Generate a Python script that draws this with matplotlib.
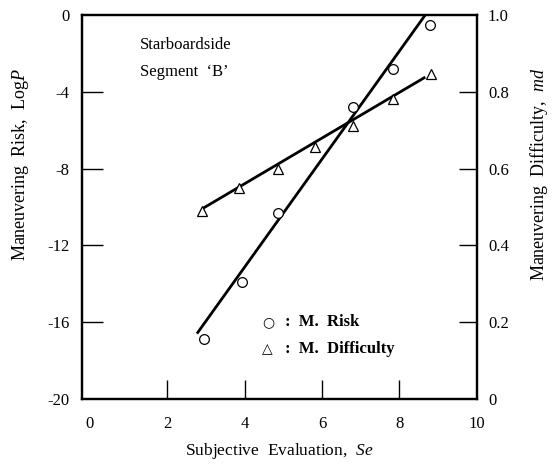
import matplotlib
matplotlib.use("Agg")
import matplotlib.pyplot as plt

plt.rcParams['font.family'] = ['Liberation Serif', 'DejaVu Serif']
plt.rcParams['mathtext.fontset'] = 'custom'
plt.rcParams['mathtext.rm'] = 'Liberation Serif'
plt.rcParams['mathtext.it'] = 'Liberation Serif:italic'

# data
se_risk = [2.95, 3.93, 4.86, 6.80, 7.84, 8.80]
log_p = [-16.9, -13.9, -10.3, -4.8, -2.8, -0.5]
se_diff = [2.90, 3.86, 4.86, 5.82, 6.80, 7.84, 8.82]
md = [0.49, 0.55, 0.60, 0.655, 0.71, 0.78, 0.845]

# fitted lines (end points)
risk_line_se = [2.77, 8.67]
risk_line_logp = [-16.6, 0.0]
diff_line_se = [2.92, 8.67]
diff_line_md = [0.496, 0.838]

x_ticks = [0, 2, 4, 6, 8, 10]
left_ticks = [0, -4, -8, -12, -16, -20]
right_ticks = [0, 0.2, 0.4, 0.6, 0.8, 1.0]
right_labels = ['0', '0.2', '0.4', '0.6', '0.8', '1.0']

fig = plt.figure(figsize=(5.56, 4.66), dpi=100)
ax = fig.add_axes([0.1475, 0.144, 0.71, 0.824])
ax2 = ax.twinx()

# risk (left axis)
ax.plot(risk_line_se, risk_line_logp, color='black', lw=2.0, solid_capstyle='butt')
ax.plot(se_risk, log_p, 'o', ms=7, mfc='white', mec='black', mew=0.9, clip_on=False)
ax.set_xlim(-0.2, 10)
ax.set_ylim(-20, 0)

# difficulty (right axis)
ax2.plot(diff_line_se, diff_line_md, color='black', lw=2.0, solid_capstyle='butt')
ax2.plot(se_diff, md, '^', ms=7.5, mfc='white', mec='black', mew=0.9, clip_on=False)
ax2.set_ylim(0, 1.0)

ax.set_xticks(x_ticks)
ax.set_xticklabels([str(t) for t in x_ticks])
ax.set_yticks(left_ticks)
ax.set_yticklabels([str(t) for t in left_ticks])
ax2.set_yticks(right_ticks)
ax2.set_yticklabels(right_labels)

ax.tick_params(axis='x', direction='in', length=14, width=1.0, pad=12, labelsize=12)
ax.tick_params(axis='y', direction='in', length=15, width=1.0, pad=9, labelsize=12)
ax2.tick_params(axis='y', direction='in', length=13, width=1.0, pad=8, labelsize=12)

# hide ticks at the corners
for t in ax.xaxis.get_major_ticks():
    if t.get_loc() in (0, 10):
        t.tick1line.set_visible(False)
for t in ax.yaxis.get_major_ticks():
    if t.get_loc() in (0, -20):
        t.tick1line.set_visible(False)
for t in ax2.yaxis.get_major_ticks():
    if t.get_loc() in (0, 1.0):
        t.tick2line.set_visible(False)

for a in (ax, ax2):
    for s in a.spines.values():
        s.set_linewidth(1.6)

ax.set_xlabel(r"Subjective  Evaluation,  $\it{Se}$", fontsize=12.5, labelpad=7)
ax.set_ylabel(r"Maneuvering  Risk,  Log$\it{P}$", fontsize=13)
ax2.set_ylabel(r"Maneuvering  Difficulty,  $\it{md}$", fontsize=13)
ax.yaxis.set_label_coords(-0.13, 0.61)
ax2.yaxis.set_label_coords(1.13, 0.585)

ax.text(1.3, -1.75, "Starboardside", fontsize=12)
ax.text(1.3, -3.2, "Segment  \u2018B\u2019", fontsize=12)

# legend as text
ax.text(4.45, -16.0, "\u25cb", fontsize=10, family='DejaVu Sans', va='center')
ax.text(5.05, -16.0, ":  M.  Risk", fontsize=12, fontweight='bold', va='center')
ax.text(4.45, -17.4, "\u25b3", fontsize=10, family='DejaVu Sans', va='center')
ax.text(5.05, -17.4, ":  M.  Difficulty", fontsize=12, fontweight='bold', va='center')

fig.savefig("out.png", dpi=100)
